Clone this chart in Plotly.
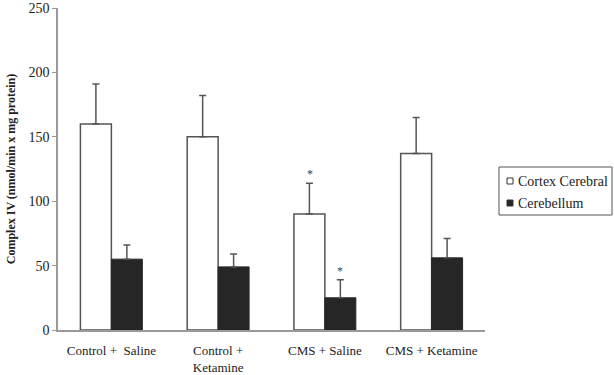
import plotly.graph_objects as go

categories = ["Control +  Saline", "Control +<br>Ketamine", "CMS + Saline", "CMS + Ketamine"]
cortex = [160, 150, 90, 137]
cortex_err = [31, 32, 24, 28]
cerebellum = [55, 49, 25, 56]
cerebellum_err = [11, 10, 14, 15]
y_ticks = [0, 50, 100, 150, 200, 250]
series_names = ["Cortex Cerebral", "Cerebellum"]
series_fill = ["white", "#262626"]

font = "Times New Roman, Liberation Serif, serif"

W, H = 614, 375
ML, MR, MT, MB = 58, 129, 8, 45
PW, PH = W - ML - MR, H - MT - MB


def px_x(px):
    return (px - ML) / PW


def px_y(py):
    return (H - MB - py) / PH


fig = go.Figure()
fig.add_trace(go.Bar(
    x=categories, y=cortex, name=series_names[0],
    marker=dict(color=series_fill[0], line=dict(color="#555555", width=1.5)),
    error_y=dict(type="data", symmetric=False, array=cortex_err, arrayminus=[0]*4,
                 color="#555555", thickness=1.5, width=3.5),
))
fig.add_trace(go.Bar(
    x=categories, y=cerebellum, name=series_names[1],
    marker=dict(color=series_fill[1], line=dict(color="#262626", width=1)),
    error_y=dict(type="data", symmetric=False, array=cerebellum_err, arrayminus=[0]*4,
                 color="#555555", thickness=1.5, width=3.5),
))

# significance asterisks for CMS + Saline
fig.add_annotation(x=categories[2], y=cortex[2] + cortex_err[2], xshift=-15, yshift=0,
                   text="*", showarrow=False, yanchor="bottom",
                   font=dict(family=font, size=12, color="#444"))
fig.add_annotation(x=categories[2], y=cerebellum[2] + cerebellum_err[2], xshift=15, yshift=0,
                   text="*", showarrow=False, yanchor="bottom",
                   font=dict(family=font, size=12, color="#444"))

# legend box (drawn manually to match the compact original legend)
fig.add_shape(type="rect", xref="paper", yref="paper",
              x0=px_x(499), x1=px_x(612), y0=px_y(215), y1=px_y(167),
              line=dict(color="#555555", width=1), fillcolor="white")
for i, (name, fill) in enumerate(zip(series_names, series_fill)):
    cy = 181 + 22 * i
    fig.add_shape(type="rect", xref="paper", yref="paper",
                  x0=px_x(507), x1=px_x(513), y0=px_y(cy + 3), y1=px_y(cy - 3),
                  line=dict(color="#333333", width=1), fillcolor=fill)
    fig.add_annotation(xref="paper", yref="paper", x=px_x(516), y=px_y(cy),
                       xanchor="left", yanchor="middle", showarrow=False, text=name,
                       font=dict(family=font, size=14, color="#222"))

fig.update_layout(
    width=W, height=H,
    margin=dict(l=ML, r=MR, t=MT, b=MB, autoexpand=False),
    paper_bgcolor="white", plot_bgcolor="white",
    barmode="group", bargap=0.42, bargroupgap=0,
    font=dict(family=font, size=13, color="#222"),
    showlegend=False,
    xaxis=dict(showline=True, linecolor="#999999", linewidth=1.5, ticks="",
               tickfont=dict(family=font, size=13, color="#222"), showgrid=False,
               automargin=False, ticklabelstandoff=8),
    yaxis=dict(range=[0, 250], tickvals=y_ticks, showline=True, linecolor="#999999",
               linewidth=1.5, ticks="outside", ticklen=4, tickcolor="#999999",
               showgrid=False, zeroline=False, automargin=False,
               tickfont=dict(family=font, size=14, color="#222"),
               title=dict(text="<b>Complex IV (nmol/min x mg protein)</b>",
                          font=dict(family=font, size=12, color="#222"), standoff=10)),
)

fig.write_html("out.html", config={"displayModeBar": False},
               post_script="document.body.style.margin='0';")
